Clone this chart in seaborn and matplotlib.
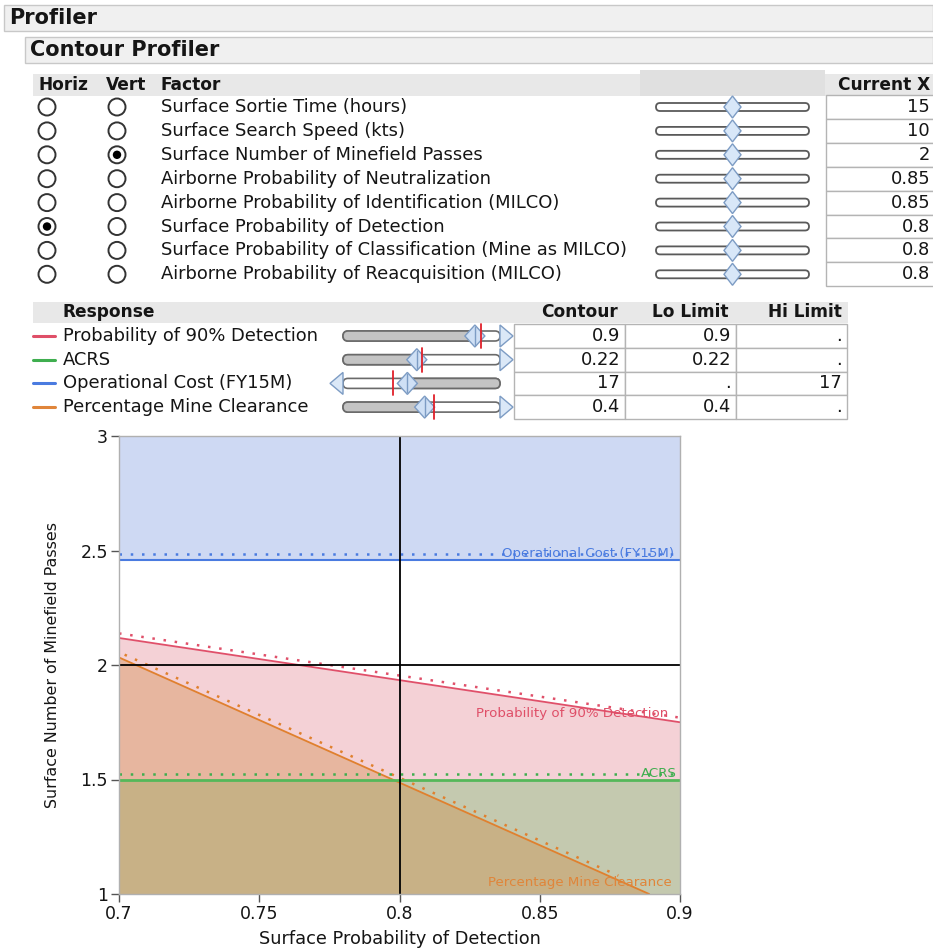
import numpy as np
import pandas as pd
import matplotlib
matplotlib.use("Agg")
import matplotlib.pyplot as plt
import seaborn as sns
from matplotlib.patches import Rectangle, Circle, Polygon, FancyBboxPatch

# factor table
factors = ['Surface Sortie Time (hours)', 'Surface Search Speed (kts)',
           'Surface Number of Minefield Passes', 'Airborne Probability of Neutralization',
           'Airborne Probability of Identification (MILCO)', 'Surface Probability of Detection',
           'Surface Probability of Classification (Mine as MILCO)',
           'Airborne Probability of Reacquisition (MILCO)']
current_x = ['15', '10', '2', '0.85', '0.85', '0.8', '0.8', '0.8']
horiz_pick = 5
vert_pick = 2

# response table
responses = ['Probability of 90% Detection', 'ACRS', 'Operational Cost (FY15M)',
             'Percentage Mine Clearance']
resp_colors = ['#df4f68', '#3fae4f', '#4a7be0', '#e0853a']
contour_vals = ['0.9', '0.22', '17', '0.4']
lo_limits = ['0.9', '0.22', '.', '0.4']
hi_limits = ['.', '.', '17', '.']
thumb_pos = [0.84, 0.47, 0.41, 0.52]
limit_pos = [0.88, 0.50, 0.32, 0.58]

# contour curves
pd90_x = [0.7, 0.9]
pd90_y = [2.118, 1.75]
pd90_dot = [2.138, 1.77]
pmc_x = [0.7, 0.889]
pmc_y = [2.033, 1.0]
pmc_dot_x = [0.702, 0.878]
pmc_dot_y = [2.045, 1.08]
acrs_y = 1.5
acrs_dot = 1.525
cost_y = 2.46
cost_dot = 2.485
cur_x = 0.8
cur_y = 2.0

sns.set_theme(style="white")
plt.rcParams['font.family'] = ['DejaVu Sans']

W, H = 933, 951
fig = plt.figure(figsize=(W / 100, H / 100), dpi=100)

# ---- panel drawn in pixel coordinates
ui = fig.add_axes([0, 0, 1, 1])
ui.set_xlim(0, W)
ui.set_ylim(H, 0)
ui.axis('off')

txt = '#151515'
fs = 12.85
ui.add_patch(Rectangle((4, 5), 929, 26, fc='#f0f0f0', ec='#c8c8c8', lw=1))
ui.text(9, 18, 'Profiler', fontsize=15, weight='bold', va='center', color=txt)
ui.add_patch(Rectangle((25, 37), 908, 26, fc='#f0f0f0', ec='#c8c8c8', lw=1))
ui.text(30, 50, 'Contour Profiler', fontsize=15, weight='bold', va='center', color=txt)

ui.add_patch(Rectangle((33, 74), 900, 22, fc='#e8e8e8', ec='none'))
ui.add_patch(Rectangle((640, 70), 185, 26, fc='#e0e0e0', ec='none'))
for x, s in [(39, 'Horiz'), (106, 'Vert'), (160, 'Factor'), (838, 'Current X')]:
    ui.text(x, 85, s, fontsize=fs - 0.6, weight='bold', va='center', color=txt)

row_h = 23.9
for i, name in enumerate(factors):
    y = 107 + i * row_h
    for cx, picked in [(47, i == horiz_pick), (117, i == vert_pick)]:
        ui.add_patch(Circle((cx, y), 8.5, fc='white', ec='#333333', lw=1.4))
        if picked:
            ui.add_patch(Circle((cx, y), 4.2, fc='black', ec='none'))
    ui.text(161, y, name, fontsize=fs, va='center', color=txt)
    ui.add_patch(FancyBboxPatch((656, y - 4), 153, 8, boxstyle='round,pad=0,rounding_size=4',
                                fc='white', ec='#5a5a5a', lw=1.3))
    tx = 656 + 0.5 * 153
    ui.add_patch(Polygon([(tx, y - 11), (tx + 8.5, y), (tx, y + 11), (tx - 8.5, y)],
                         fc='#d8e7f8', ec='#7d9cc4', lw=1))
    ui.add_patch(Rectangle((826, y - row_h / 2), 110, row_h, fc='white', ec='#b4b4b4', lw=1))
    ui.text(930, y, current_x[i], fontsize=fs, va='center', ha='right', color=txt)

ui.add_patch(Rectangle((33, 302), 815, 21, fc='#e8e8e8', ec='none'))
ui.text(63, 312, 'Response', fontsize=fs - 0.6, weight='bold', va='center', color=txt)
for x, s in [(618, 'Contour'), (729, 'Lo Limit'), (842, 'Hi Limit')]:
    ui.text(x, 312, s, fontsize=fs - 0.6, weight='bold', va='center', ha='right', color=txt)

t0, t1 = 343, 500
for i, name in enumerate(responses):
    y = 336 + i * 23.7
    ui.plot([33, 55], [y, y], color=resp_colors[i], lw=2.2)
    ui.text(63, y, name, fontsize=fs, va='center', color=txt)
    tx = t0 + thumb_pos[i] * (t1 - t0)
    rx = t0 + limit_pos[i] * (t1 - t0)
    ui.add_patch(FancyBboxPatch((t0, y - 5), t1 - t0, 10, boxstyle='round,pad=0,rounding_size=5',
                                fc='white', ec='#6a6a6a', lw=1.2))
    if i == 2:
        ui.add_patch(FancyBboxPatch((tx, y - 5), t1 - tx, 10, boxstyle='round,pad=0,rounding_size=5',
                                    fc='#c4c4c4', ec='#6a6a6a', lw=1.2))
        ui.add_patch(Polygon([(t0, y - 11), (t0, y + 11), (t0 - 13, y)],
                             fc='#dbe8f7', ec='#7d9cc4', lw=1))
    else:
        ui.add_patch(FancyBboxPatch((t0, y - 5), tx - t0, 10, boxstyle='round,pad=0,rounding_size=5',
                                    fc='#c4c4c4', ec='#6a6a6a', lw=1.2))
        ui.add_patch(Polygon([(t1, y - 11), (t1, y + 11), (t1 + 13, y)],
                             fc='#dbe8f7', ec='#7d9cc4', lw=1))
    ui.add_patch(Polygon([(tx, y - 11), (tx + 10, y), (tx, y + 11), (tx - 10, y)],
                         fc='#cfe0f5', ec='#7d9cc4', lw=1))
    ui.plot([tx, tx], [y - 9, y + 9], color='#7d9cc4', lw=1)
    ui.plot([rx, rx], [y - 12, y + 12], color='#e0202a', lw=1.3)
    for j, (x0, v) in enumerate([(514, contour_vals[i]), (625, lo_limits[i]), (736, hi_limits[i])]):
        ui.add_patch(Rectangle((x0, y - 11.8), 111, 23.7, fc='white', ec='#b4b4b4', lw=1))
        ui.text(x0 + 106, y, v, fontsize=fs, va='center', ha='right', color=txt)

# ---- contour plot
ax = fig.add_axes([119 / W, (H - 894) / H, 561 / W, 458 / H])
xs = np.array([0.7, 0.9])
red_df = pd.DataFrame({'x': pd90_x, 'y': pd90_y})
orn_df = pd.DataFrame({'x': pmc_x, 'y': pmc_y})

ax.fill_between(pd90_x, 1, pd90_y, color='#d74b5f', alpha=0.25, lw=0)
ax.fill_between(xs, 1, acrs_y, color='#6cbb68', alpha=0.35, lw=0)
ax.fill_between(pmc_x, 1, pmc_y, color='#d0853a', alpha=0.35, lw=0)
ax.fill_between(xs, cost_y, 3, color='#5f84da', alpha=0.3, lw=0)

sns.lineplot(data=red_df, x='x', y='y', ax=ax, color='#e0506a', lw=1.3)
sns.lineplot(data=orn_df, x='x', y='y', ax=ax, color='#e0802e', lw=1.3)
dots = (0, (1, 3.5))
ax.plot(pd90_x, pd90_dot, color='#e0506a', lw=1.8, ls=dots)
ax.plot(pmc_dot_x, pmc_dot_y, color='#e0802e', lw=1.8, ls=dots)
ax.axhline(acrs_y, color='#55b85a', lw=2)
ax.axhline(acrs_dot, color='#3fae4f', lw=1.8, ls=dots)
ax.axhline(cost_y, color='#4a7be0', lw=1.5)
ax.axhline(cost_dot, color='#4a7be0', lw=1.8, ls=dots)
ax.axvline(cur_x, color='black', lw=1.3)
ax.axhline(cur_y, color='black', lw=1.3)

lab = dict(fontsize=9.6, ha='right', va='center')
ax.text(0.898, cost_dot, 'Operational Cost (FY15M)', color='#4a7be0', **lab)
ax.text(0.8957, 1.79, 'Probability of 90% Detection', color='#df4f68', **lab)
ax.text(0.899, acrs_dot, 'ACRS', color='#3fae4f', **lab)
ax.text(0.897, 1.052, 'Percentage Mine Clearance', color='#e0853a', **lab)

ax.set_xlim(0.7, 0.9)
ax.set_ylim(1, 3)
ax.set_xticks([0.7, 0.75, 0.8, 0.85, 0.9])
ax.set_xticklabels(['0.7', '0.75', '0.8', '0.85', '0.9'])
ax.set_yticks([1, 1.5, 2, 2.5, 3])
ax.set_yticklabels(['1', '1.5', '2', '2.5', '3'])
ax.tick_params(axis='both', labelsize=12.5, length=6, width=1, color='#555555',
               labelcolor='#151515', left=True, bottom=True, pad=2)
for s in ax.spines.values():
    s.set_color('#b0b0b0')
    s.set_linewidth(1)
ax.set_xlabel('Surface Probability of Detection', fontsize=12.8, color='#151515', labelpad=5)
ax.set_ylabel('Surface Number of Minefield Passes', fontsize=11.4, color='#151515', labelpad=15)

fig.savefig('out.png', dpi=100)
